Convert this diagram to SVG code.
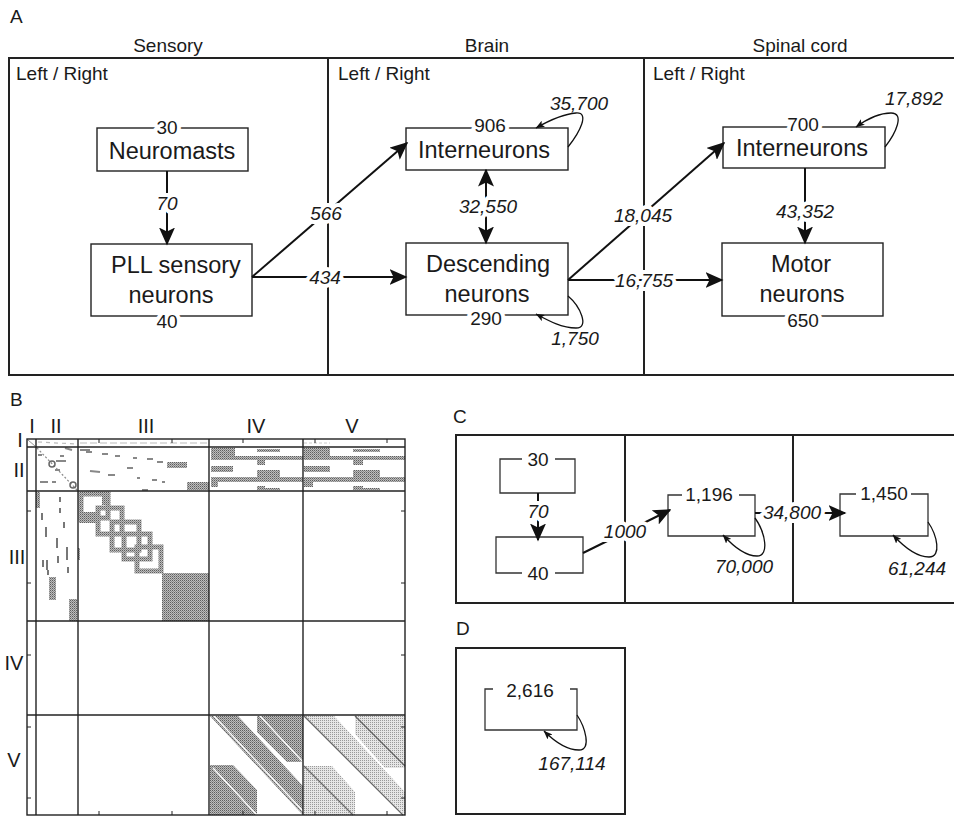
<svg xmlns="http://www.w3.org/2000/svg" width="954" height="816" viewBox="0 0 954 816">
<style>
text{font-family:"Liberation Sans",Arial,Helvetica,sans-serif;fill:#1a1a1a}
.pl{font-size:19px}
.hd{font-size:19px;text-anchor:middle}
.lr{font-size:19px}
.nd{font-size:23.5px;text-anchor:middle}
.num{font-size:19px;text-anchor:middle}
.it{font-size:19px;font-style:italic;text-anchor:middle}
.rn{font-size:20px;text-anchor:middle}
.halo{stroke:#fff;stroke-width:8px;paint-order:stroke;stroke-linejoin:round}
.box{fill:#fff;stroke:#222;stroke-width:1.4}
.frame{fill:none;stroke:#222;stroke-width:2}
.div{stroke:#222;stroke-width:2}
.edge{fill:none;stroke:#111;stroke-width:2}
.loop{fill:none;stroke:#111;stroke-width:1.3}
.br{fill:none;stroke:#333;stroke-width:1.3}
.grid{stroke:#222;stroke-width:1.4;fill:none}
.tick{stroke:#222;stroke-width:1}
.dash{stroke:#888;stroke-width:2}
.vd{stroke:#777;stroke-width:2}
.dg{stroke:#666;stroke-width:1.3}
.dw{stroke:#fff;stroke-width:1.3}
</style>
<defs>
<marker id="ah" markerUnits="userSpaceOnUse" viewBox="0 0 18 16" markerWidth="18" markerHeight="16" refX="16.5" refY="8" orient="auto-start-reverse">
<path d="M0,0 L18,8 L0,16 L4,8 z" fill="#111"/>
</marker>
<marker id="ahs" markerUnits="userSpaceOnUse" viewBox="0 0 9 7" markerWidth="9" markerHeight="7" refX="8.5" refY="3.5" orient="auto">
<path d="M0,0 L9,3.5 L0,7 L2,3.5 z" fill="#111"/>
</marker>
<pattern id="pd" width="2" height="2" patternUnits="userSpaceOnUse">
<rect width="2" height="2" fill="#bdbdbd"/><rect width="1" height="1" fill="#5e5e5e"/><rect x="1" y="1" width="1" height="1" fill="#8a8a8a"/>
</pattern>
<pattern id="plt" width="2" height="2" patternUnits="userSpaceOnUse">
<rect width="2" height="2" fill="#e6e6e6"/><rect width="1" height="1" fill="#9a9a9a"/>
</pattern>
</defs>
<rect width="954" height="816" fill="#fff"/>

<!-- Panel A -->
<g id="panelA">
<text class="pl" x="10" y="23">A</text>
<text class="hd" x="168" y="52">Sensory</text>
<text class="hd" x="487" y="52">Brain</text>
<text class="hd" x="800" y="52">Spinal cord</text>
<rect class="frame" x="9" y="58" width="952" height="317"/>
<line class="div" x1="328" y1="58" x2="328" y2="375"/>
<line class="div" x1="644" y1="58" x2="644" y2="375"/>
<text class="lr" x="16" y="80">Left / Right</text>
<text class="lr" x="338" y="80">Left / Right</text>
<text class="lr" x="653" y="80">Left / Right</text>
</g>

<g id="node-neuromasts">
<rect class="box" x="97" y="128" width="151" height="43"/>
<text class="num halo" x="167" y="134">30</text>
<text class="nd" x="172" y="159">Neuromasts</text>
</g>
<g id="node-pll">
<rect class="box" x="91" y="244" width="161" height="72"/>
<text class="nd" x="176" y="273">PLL sensory</text>
<text class="nd" x="171" y="303">neurons</text>
<text class="num halo" x="167" y="328">40</text>
</g>
<g id="node-brain-inter">
<rect class="box" x="406" y="128" width="162" height="42"/>
<text class="num halo" x="490" y="132">906</text>
<text class="nd" x="484" y="158">Interneurons</text>
</g>
<g id="node-descending">
<rect class="box" x="406" y="243" width="162" height="72"/>
<text class="nd" x="488" y="272">Descending</text>
<text class="nd" x="487" y="302">neurons</text>
<text class="num halo" x="486" y="325">290</text>
</g>
<g id="node-spinal-inter">
<rect class="box" x="723" y="127" width="162" height="41"/>
<text class="num halo" x="803" y="131">700</text>
<text class="nd" x="802" y="156">Interneurons</text>
</g>
<g id="node-motor">
<rect class="box" x="722" y="243" width="161" height="73"/>
<text class="nd" x="801" y="272">Motor</text>
<text class="nd" x="802" y="302">neurons</text>
<text class="num halo" x="803" y="327">650</text>
</g>

<!-- Panel C -->
<g id="panelC">
<text class="pl" x="453" y="423">C</text>
<rect class="frame" x="456" y="435" width="510" height="168"/>
<line class="div" x1="625" y1="435" x2="625" y2="603"/>
<line class="div" x1="793" y1="435" x2="793" y2="603"/>
</g>
<g id="node-c-sensory-top">
<path class="br" d="M522,459 H500 V493 H575 V459 H555"/>
<text class="num" x="538" y="466">30</text>
</g>
<g id="node-c-sensory-bottom">
<path class="br" d="M522,573 H496 V537 H583 V573 H555"/>
<text class="num" x="538" y="580">40</text>
</g>
<g id="node-c-brain">
<path class="br" d="M682,495 H668 V536 H755 V495 H739"/>
<text class="num" x="709" y="501">1,196</text>
</g>
<g id="node-c-spinal">
<path class="br" d="M856,494 H840 V536 H928 V494 H911"/>
<text class="num" x="884" y="500">1,450</text>
</g>

<!-- Panel D -->
<g id="panelD">
<text class="pl" x="456" y="635">D</text>
<rect class="frame" x="456" y="648" width="169" height="166"/>
</g>
<g id="node-d-all">
<path class="br" d="M493,689 H485 V730 H577 V689 H570"/>
<text class="num" x="530" y="697">2,616</text>
</g>

<!-- Panel B -->
<g id="panelB">
<text class="pl" x="10" y="406">B</text>
<text class="rn" x="32" y="433">I</text>
<text class="rn" x="56" y="433">II</text>
<text class="rn" x="146" y="433">III</text>
<text class="rn" x="256" y="433">IV</text>
<text class="rn" x="352" y="433">V</text>
<text class="rn" x="20" y="447">I</text>
<text class="rn" x="19" y="477">II</text>
<text class="rn" x="17" y="564">III</text>
<text class="rn" x="14" y="670">IV</text>
<text class="rn" x="14" y="767">V</text>

<!-- row I -->
<line x1="80" y1="443" x2="209" y2="443" stroke="#bbb" stroke-width="1.2" stroke-dasharray="7 3"/>
<line x1="28" y1="440" x2="35" y2="446" stroke="#999" stroke-width="1"/>
<line x1="38" y1="442" x2="76" y2="444" stroke="#bbb" stroke-width="1.2" stroke-dasharray="4 4"/>
<line x1="304" y1="443" x2="330" y2="443" stroke="#ccc" stroke-width="1" stroke-dasharray="3 2"/>

<!-- II x II -->
<line x1="37" y1="448" x2="77" y2="490" stroke="#888" stroke-width="1.2" stroke-dasharray="2 2"/>
<circle cx="52" cy="464" r="3" fill="none" stroke="#666" stroke-width="1.5"/>
<circle cx="73" cy="485" r="3" fill="none" stroke="#666" stroke-width="1.5"/>
<line class="dash" x1="38" y1="455" x2="42" y2="455"/>
<line class="dash" x1="60" y1="456" x2="64" y2="456"/>
<line class="dash" x1="65" y1="448" x2="72" y2="450"/>
<line class="dash" x1="56" y1="461" x2="66" y2="461"/>
<line class="dash" x1="40" y1="482" x2="48" y2="482"/>
<line class="dash" x1="55" y1="470" x2="60" y2="470"/>
<line class="dash" x1="52" y1="482" x2="56" y2="482"/>

<!-- II x III -->
<line class="dash" x1="80" y1="450" x2="90" y2="450"/>
<line class="dash" x1="86" y1="452" x2="92" y2="452"/>
<line class="dash" x1="102" y1="454" x2="108" y2="454"/>
<line class="dash" x1="115" y1="456" x2="120" y2="456"/>
<line class="dash" x1="133" y1="458" x2="137" y2="458"/>
<line class="dash" x1="147" y1="459" x2="153" y2="459"/>
<line class="dash" x1="157" y1="462" x2="163" y2="462"/>
<rect x="167" y="462" width="20" height="6" fill="url(#pd)"/>
<line class="dash" x1="90" y1="471" x2="100" y2="472"/>
<line class="dash" x1="108" y1="475" x2="115" y2="475"/>
<line class="dash" x1="127" y1="468" x2="133" y2="468"/>
<line class="dash" x1="137" y1="478" x2="140" y2="478"/>
<line class="dash" x1="152" y1="480" x2="157" y2="480"/>
<line class="dash" x1="162" y1="482" x2="165" y2="482"/>
<rect x="187" y="482" width="22" height="8" fill="url(#pd)"/>
<line class="dash" x1="142" y1="490" x2="148" y2="490"/>

<!-- II x IV -->
<g fill="url(#pd)">
<rect x="211" y="448" width="24" height="12"/>
<rect x="257" y="449" width="23" height="3"/>
<rect x="211" y="456" width="92" height="4"/>
<rect x="257" y="460" width="8" height="5"/>
<rect x="211" y="466" width="22" height="6"/>
<rect x="257" y="470" width="23" height="7"/>
<rect x="211" y="477" width="92" height="5"/>
<rect x="211" y="480" width="7" height="7"/>
<rect x="257" y="486" width="8" height="4"/>
<rect x="265" y="488" width="15" height="2"/>
<!-- II x V -->
<rect x="304" y="448" width="26" height="12"/>
<rect x="353" y="449" width="27" height="3"/>
<rect x="304" y="456" width="101" height="4"/>
<rect x="353" y="460" width="10" height="5"/>
<rect x="304" y="466" width="26" height="6"/>
<rect x="353" y="470" width="27" height="7"/>
<rect x="304" y="477" width="101" height="5"/>
<rect x="304" y="480" width="9" height="7"/>
<rect x="353" y="486" width="10" height="4"/>
<rect x="363" y="488" width="17" height="2"/>
</g>

<!-- III x II -->
<rect x="36" y="492" width="4" height="16" fill="url(#pd)"/>
<line class="vd" x1="60" y1="497" x2="60" y2="502"/>
<line class="vd" x1="60" y1="508" x2="60" y2="513"/>
<line class="vd" x1="42" y1="513" x2="42" y2="520"/>
<line class="vd" x1="64" y1="522" x2="64" y2="528"/>
<line class="vd" x1="46" y1="527" x2="46" y2="537"/>
<line class="vd" x1="57" y1="538" x2="57" y2="548"/>
<line class="vd" x1="67" y1="547" x2="67" y2="560"/>
<line class="vd" x1="43" y1="560" x2="43" y2="567"/>
<line class="vd" x1="47" y1="560" x2="47" y2="570"/>
<line class="vd" x1="68" y1="567" x2="68" y2="573"/>
<line class="vd" x1="48" y1="570" x2="48" y2="575"/>
<line class="vd" x1="58" y1="556" x2="58" y2="563"/>
<rect x="49" y="577" width="7" height="23" fill="url(#pd)"/>
<rect x="69" y="599" width="8" height="22" fill="url(#pd)"/>
<rect x="78" y="548" width="2" height="12" fill="url(#pd)"/>

<!-- III x III -->
<g fill="none" stroke="url(#pd)" stroke-width="5">
<rect x="81" y="494" width="27" height="24"/>
<rect x="98" y="508" width="24" height="26"/>
<rect x="112" y="522" width="27" height="28"/>
<rect x="124" y="534" width="26" height="25"/>
<rect x="137" y="547" width="24" height="24"/>
</g>
<rect x="79" y="512" width="21" height="11" fill="url(#pd)"/>
<rect x="102" y="492" width="8" height="13" fill="url(#pd)"/>
<rect x="162" y="573" width="47" height="48" fill="url(#pd)"/>

<!-- V x IV -->
<g fill="url(#pd)">
<polygon points="210,716 238,716 303,786 303,815"/>
<polygon points="257,716 303,716 303,762 287,762 257,732"/>
<polygon points="210,765 233,765 257,790 257,815 210,815"/>
<polygon points="262,770 282,770 303,792 303,800"/>
</g>
<line class="dw" x1="214" y1="716" x2="303" y2="811"/>
<line class="dw" x1="260" y1="716" x2="303" y2="762"/>
<line class="dw" x1="213" y1="768" x2="257" y2="815"/>
<!-- V x V -->
<g fill="url(#plt)">
<polygon points="304,716 334,716 405,792 405,815"/>
<polygon points="355,716 405,716 405,768 385,768 355,734"/>
<polygon points="304,766 332,766 355,792 355,815 304,815"/>
</g>
<line class="dg" x1="304" y1="716" x2="403" y2="815"/>
<line class="dg" x1="355" y1="716" x2="405" y2="766"/>
<line class="dg" x1="304" y1="766" x2="353" y2="815"/>

<!-- grid -->
<rect class="grid" x="27" y="439" width="378" height="376"/>
<line class="grid" x1="27" y1="447" x2="405" y2="447"/>
<line class="grid" x1="27" y1="491" x2="405" y2="491"/>
<line class="grid" x1="27" y1="621" x2="405" y2="621"/>
<line class="grid" x1="27" y1="715" x2="405" y2="715"/>
<line class="grid" x1="36" y1="439" x2="36" y2="815"/>
<line class="grid" x1="78" y1="439" x2="78" y2="815"/>
<line class="grid" x1="209" y1="439" x2="209" y2="815"/>
<line class="grid" x1="303" y1="439" x2="303" y2="815"/>
<g class="tick">
<path d="M99,439v4M172,439v4M243,439v4M315,439v4M387,439v4"/>
<path d="M99,815v-4M172,815v-4M243,815v-4M315,815v-4M387,815v-4"/>
<path d="M27,511h4M27,583h4M27,655h4M27,727h4M27,798h4"/>
<path d="M405,511h-4M405,583h-4M405,655h-4M405,727h-4M405,798h-4"/>
</g>
</g>

<!-- Connectors -->
<g id="connectors">
<path class="edge" d="M167,171 V244" marker-end="url(#ah)"/>
<path class="edge" d="M252,277 L407,143" marker-end="url(#ah)"/>
<path class="edge" d="M252,277 H406" marker-end="url(#ah)"/>
<path class="edge" d="M486,170 V243" marker-start="url(#ah)" marker-end="url(#ah)"/>
<path class="edge" d="M568,280 L724,143" marker-end="url(#ah)"/>
<path class="edge" d="M568,280 H722" marker-end="url(#ah)"/>
<path class="edge" d="M805,168 V243" marker-end="url(#ah)"/>
<path class="loop" d="M568,147 C580,132 590,112 576,113 C563,114 550,120 536,128" marker-end="url(#ahs)"/>
<path class="loop" d="M568,296 C580,306 590,328 576,328 C562,328 549,321 536,314" marker-end="url(#ahs)"/>
<path class="loop" d="M885,147 C896,133 905,113 891,113 C879,113 867,119 856,127" marker-end="url(#ahs)"/>
<text class="it halo" x="167" y="210">70</text>
<text class="it halo" x="326" y="220">566</text>
<text class="it halo" x="325" y="284">434</text>
<text class="it halo" x="488" y="213">32,550</text>
<text class="it halo" x="643" y="222">18,045</text>
<text class="it halo" x="644" y="287">16,755</text>
<text class="it halo" x="805" y="218">43,352</text>
<text class="it" x="579" y="110">35,700</text>
<text class="it" x="575" y="345">1,750</text>
<text class="it" x="914" y="105">17,892</text>

<path class="edge" d="M538,493 V540" marker-end="url(#ah)"/>
<path class="edge" d="M583,553 L670,510" marker-end="url(#ah)"/>
<path class="edge" d="M755,513 H845" marker-end="url(#ah)"/>
<path class="loop" d="M755,518 C765,532 770,556 757,556 C745,556 733,546 723,535" marker-end="url(#ahs)"/>
<path class="loop" d="M928,522 C937,535 942,557 929,557 C917,557 904,547 893,535" marker-end="url(#ahs)"/>
<path class="loop" d="M577,715 C585,727 592,750 579,750 C567,750 554,741 544,731" marker-end="url(#ahs)"/>
<text class="it halo" x="538" y="518">70</text>
<text class="it halo" x="625" y="538">1000</text>
<text class="it halo" x="792" y="519">34,800</text>
<text class="it" x="744" y="573">70,000</text>
<text class="it" x="917" y="575">61,244</text>
<text class="it" x="572" y="770">167,114</text>
</g>
</svg>
